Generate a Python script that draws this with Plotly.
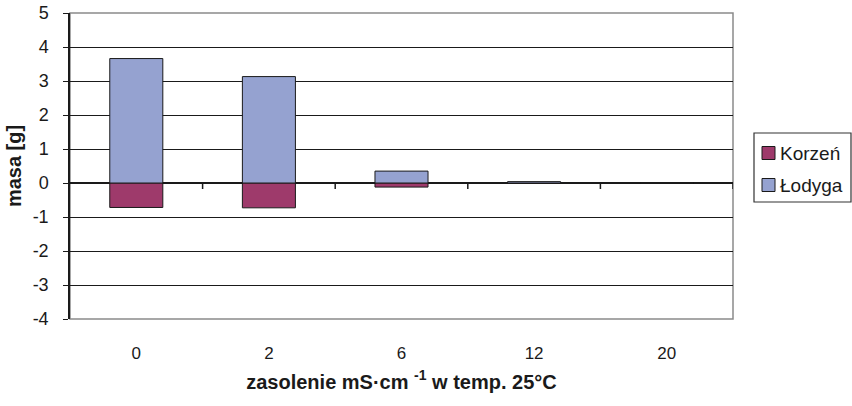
import plotly.graph_objects as go

# salinity levels (mS/cm at 25°C) and biomass per plant part [g]
zasolenie = ["0", "2", "6", "12", "20"]
korzen = [-0.72, -0.73, -0.12, -0.01, 0.0]
lodyga = [3.66, 3.13, 0.35, 0.04, 0.0]

y_ticks = [5, 4, 3, 2, 1, 0, -1, -2, -3, -4]

FONT = "Liberation Sans, Arial, sans-serif"
INK = "#1a1a1a"
COLORS = {"Korzeń": "#9E3A6B", "Łodyga": "#95A2D0"}

fig = go.Figure()
for name, vals in (("Korzeń", korzen), ("Łodyga", lodyga)):
    fig.add_trace(go.Bar(
        x=list(range(len(zasolenie))), y=vals, name=name,
        marker=dict(color=COLORS[name], line=dict(color=INK, width=1)),
        width=0.4, showlegend=False,
    ))

# category separator ticks on the zero line
for i in range(1, len(zasolenie) + 1):
    fig.add_shape(type="line", xref="x", yref="y", x0=i - 0.5, x1=i - 0.5,
                  ysizemode="pixel", yanchor=0, y0=0, y1=-6,
                  line=dict(color=INK, width=1.5))

# plot area frame (top/right/bottom)
fig.add_shape(type="rect", xref="paper", yref="paper", x0=0, x1=1, y0=0, y1=1,
              line=dict(color="#8a8a8a", width=1.5), layer="below")

# legend box drawn beside the plot area (paper coords: 663 x 306 px area)
PW, PH = 663.0, 306.0
def px_x(px):
    return (px - 70) / PW
def px_y(py):
    return (319 - py) / PH

fig.add_shape(type="rect", xref="paper", yref="paper",
              x0=px_x(754), x1=px_x(851), y0=px_y(202), y1=px_y(133),
              line=dict(color="#333333", width=1.2), fillcolor="white")
for k, name in enumerate(COLORS):
    cy = 153 + 32 * k
    fig.add_shape(type="rect", xref="paper", yref="paper",
                  x0=px_x(762), x1=px_x(775), y0=px_y(cy + 6.5), y1=px_y(cy - 6.5),
                  line=dict(color=INK, width=1), fillcolor=COLORS[name])
    fig.add_annotation(xref="paper", yref="paper", x=px_x(778), y=px_y(cy),
                       xanchor="left", yanchor="middle", showarrow=False,
                       text=name, font=dict(family=FONT, size=19, color=INK))

fig.update_layout(
    width=852, height=406,
    margin=dict(l=70, r=119, t=13, b=87, autoexpand=False),
    paper_bgcolor="white", plot_bgcolor="white",
    barmode="relative",
    showlegend=False,
    font=dict(family=FONT, color=INK),
)

fig.update_xaxes(
    range=[-0.5, len(zasolenie) - 0.5],
    tickmode="array", tickvals=list(range(len(zasolenie))), ticktext=zasolenie,
    ticks="", showgrid=False, zeroline=False, showline=False,
    tickfont=dict(family=FONT, size=17, color=INK),
    ticklabelstandoff=22,
    title=dict(text="<b>zasolenie mS·cm <sup>-1</sup> w temp. 25°C</b>",
               font=dict(family=FONT, size=20, color=INK), standoff=12),
)

fig.update_yaxes(
    range=[-4, 5], tickmode="array", tickvals=y_ticks,
    ticktext=[str(v) for v in y_ticks],
    showgrid=True, gridcolor=INK, gridwidth=1.2,
    zeroline=True, zerolinecolor=INK, zerolinewidth=1.5,
    showline=True, linecolor=INK, linewidth=1.5,
    ticks="outside", ticklen=5, tickcolor=INK,
    tickfont=dict(family=FONT, size=18, color=INK),
    ticklabelstandoff=11,
    title=dict(text="<b>masa [g]</b>", font=dict(family=FONT, size=20, color=INK),
               standoff=6),
)

fig.write_html("out.html")
